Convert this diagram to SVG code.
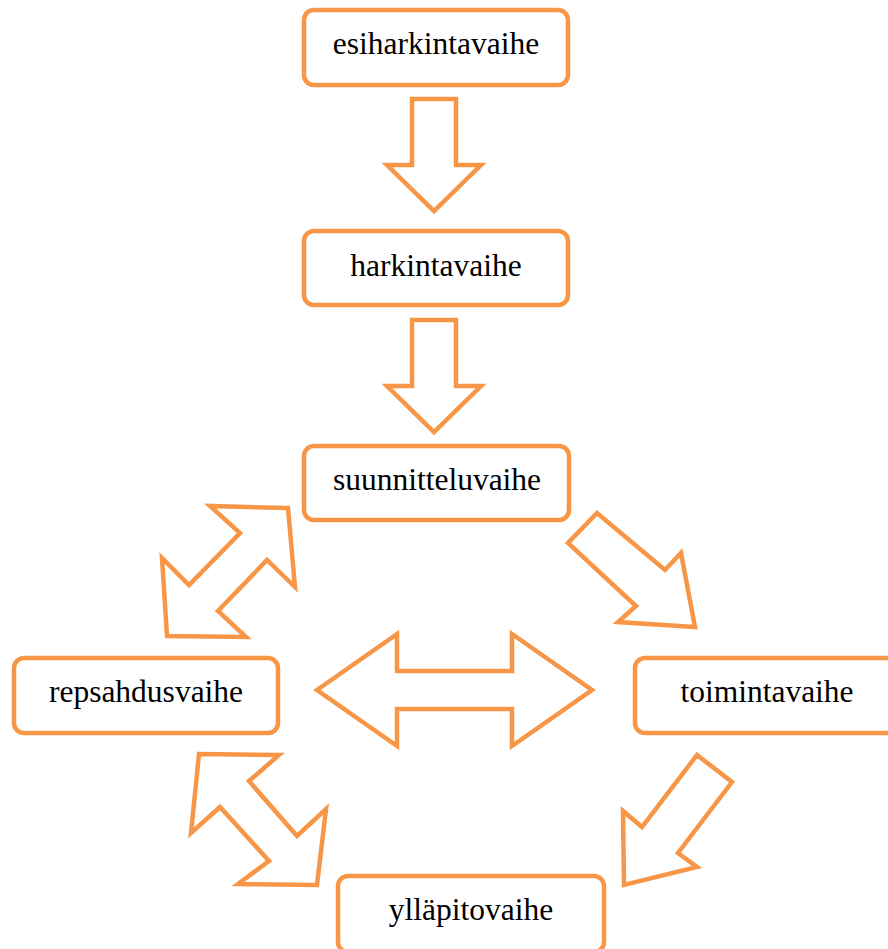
<svg xmlns="http://www.w3.org/2000/svg" width="888" height="949" viewBox="0 0 888 949">
<style>
.box{fill:#fff;stroke:#F79646;stroke-width:4.5}
.arr{fill:#fff;stroke:#F79646;stroke-width:4.5;stroke-linejoin:miter}
text{font-size:31.5px;fill:#000;text-anchor:middle}
</style>
<rect width="888" height="949" fill="#fff"/>
<g id="connectors">
<polygon class="arr" points="412,99 456,99 456,165 481,165 434,211 387,165 412,165"/>
<polygon class="arr" points="412,320 456,320 456,386 481,386 434,432 387,386 412,386"/>
<polygon class="arr" points="317,690 397,634 397,671 512,671 512,634 592,690 512,746 512,709 397,709 397,746"/>
<polygon class="arr" points="288,508 210,506 240,533 189,585 162,558 167,636 246,637 218,611 267,560 295,587"/>
<polygon class="arr" points="597,513 568,543 636,606 618,622 695,627 681,553 665,570"/>
<polygon class="arr" points="199,754 279,755 249,781 297,836 326,809 317,885 238,884 269,861 220,807 191,833"/>
<polygon class="arr" points="697,755 732,782 678,853 697,867 624,885 623,811 642,827"/>
</g>
<g id="esiharkintavaihe">
<rect class="box" x="304" y="10" width="264" height="75" rx="10"/>
<text x="436" y="54" font-family="'Liberation Serif', 'Times New Roman', serif">esiharkintavaihe</text>
</g>
<g id="harkintavaihe">
<rect class="box" x="304" y="231" width="264" height="74" rx="10"/>
<text x="436" y="276" font-family="'Liberation Serif', 'Times New Roman', serif">harkintavaihe</text>
</g>
<g id="suunnitteluvaihe">
<rect class="box" x="304" y="446" width="265" height="74" rx="10"/>
<text x="437" y="490" font-family="'Liberation Serif', 'Times New Roman', serif">suunnitteluvaihe</text>
</g>
<g id="repsahdusvaihe">
<rect class="box" x="14" y="658" width="264" height="75" rx="10"/>
<text x="146" y="702" font-family="'Liberation Serif', 'Times New Roman', serif">repsahdusvaihe</text>
</g>
<g id="toimintavaihe">
<rect class="box" x="635" y="658" width="264" height="75" rx="10"/>
<text x="767" y="702" font-family="'Liberation Serif', 'Times New Roman', serif">toimintavaihe</text>
</g>
<g id="yllapitovaihe">
<rect class="box" x="338" y="876" width="266" height="76" rx="10"/>
<text x="471" y="920" font-family="'Liberation Serif', 'Times New Roman', serif">ylläpitovaihe</text>
</g>
</svg>
